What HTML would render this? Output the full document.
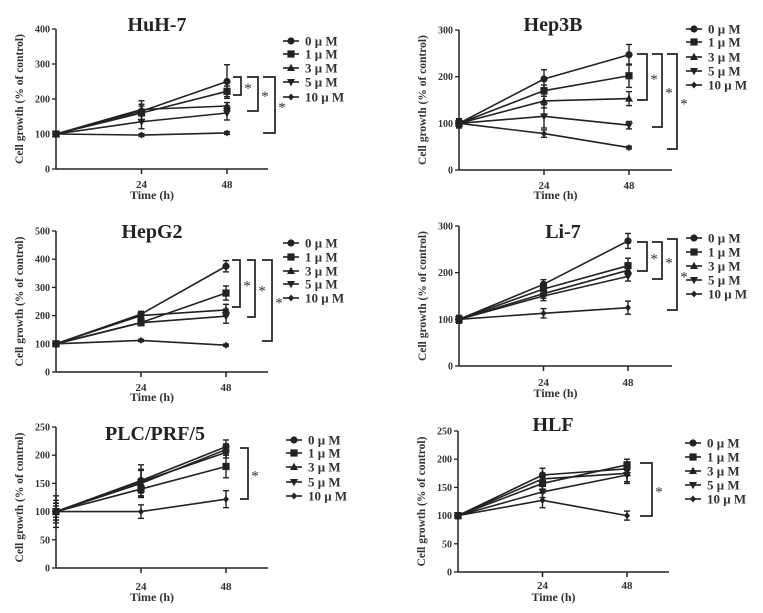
<!DOCTYPE html>
<html><head><meta charset="utf-8"><style>
html,body{margin:0;padding:0;background:#fff;}
svg{display:block;font-family:"Liberation Serif",serif;}
</style></head><body>
<svg id="fig" width="763" height="613" viewBox="0 0 763 613"></svg>
<script>
const seriesLabels = ["0 μ M","1 μ M","3 μ M","5 μ M","10 μ M"];
const timePoints = [0,24,48];
const huh7Values = [[100,165,250],[100,160,222],[100,170,180],[100,135,160],[100,97,103]];
const huh7Errors = [[5,30,48],[5,20,15],[5,15,10],[5,20,20],[3,4,4]];
const hep3bValues = [[100,195,247],[100,170,202],[100,148,153],[100,115,96],[100,78,48]];
const hep3bErrors = [[10,20,22],[8,12,25],[8,15,15],[5,25,8],[5,8,3]];
const hepg2Values = [[100,205,375],[100,175,280],[100,200,220],[100,175,198],[100,112,95]];
const hepg2Errors = [[8,10,20],[8,10,25],[8,10,20],[8,10,25],[4,4,4]];
const li7Values = [[100,175,268],[100,165,215],[100,155,205],[100,150,192],[100,113,125]];
const li7Errors = [[8,10,16],[8,10,16],[8,10,10],[8,10,10],[5,10,14]];
const plcValues = [[100,155,215],[100,140,180],[100,150,210],[100,153,205],[100,100,122]];
const plcErrors = [[28,28,12],[15,12,20],[20,25,10],[15,20,10],[10,12,15]];
const hlfValues = [[100,172,183],[100,157,190],[100,165,175],[100,142,172],[100,127,100]];
const hlfErrors = [[5,12,12],[5,10,10],[5,10,15],[5,10,15],[5,13,8]];
const yTicksA = [0,100,200,300,400];
const yTicksB = [0,100,200,300];
const yTicksC = [0,100,200,300,400,500];
const yTicksD = [0,50,100,150,200,250];
const xTickLabels = [24,48];

const NS="http://www.w3.org/2000/svg";
const svg=document.getElementById('fig');
function mk(tag,attrs,parent){const e=document.createElementNS(NS,tag);for(const k in attrs)e.setAttribute(k,attrs[k]);(parent||svg).appendChild(e);return e;}
const INK="#222";

function marker(g,k,x,y){
  let e;
  if(k===0){e=mk('circle',{cx:x,cy:y,r:3.6,fill:INK},g);}
  else if(k===1){e=mk('rect',{x:x-3.6,y:y-3.6,width:7.2,height:7.2,fill:INK},g);}
  else if(k===2){e=mk('polygon',{points:`${x},${y-4.2} ${x-4},${y+3} ${x+4},${y+3}`,fill:INK},g);}
  else if(k===3){e=mk('polygon',{points:`${x},${y+4.2} ${x-4},${y-3} ${x+4},${y-3}`,fill:INK},g);}
  else {e=mk('polygon',{points:`${x},${y-3.5} ${x+3},${y} ${x},${y+3.5} ${x-3},${y}`,fill:INK},g);}
  return e;
}

function panel(cfg){
  const g=mk('g',{});
  
  
  const ymax=cfg.ticks[cfg.ticks.length-1];
  const sy=v=>cfg.y0-(v/ymax)*(cfg.y0-cfg.yTop);
  const sx=t=>cfg.x0+(t/48)*(cfg.x48-cfg.x0);
  const t=mk('text',{x:cfg.titleX,y:cfg.titleY,'text-anchor':'middle','font-size':20,'font-weight':'bold',fill:INK},g);
  t.textContent=cfg.title;
  
  
  const ya=mk('line',{x1:cfg.x0,y1:cfg.yTop,x2:cfg.x0,y2:cfg.y0,stroke:INK,'stroke-width':1.5},g);
  
  
  const xa=mk('line',{x1:cfg.x0,y1:cfg.y0,x2:cfg.xEnd,y2:cfg.y0,stroke:INK,'stroke-width':1.5},g);
  
  
  cfg.ticks.forEach(v=>{
    mk('line',{x1:cfg.x0-4,y1:sy(v),x2:cfg.x0,y2:sy(v),stroke:INK,'stroke-width':1.3},g);
    const l=mk('text',{x:cfg.x0-6,y:sy(v)+3.5,'text-anchor':'end','font-size':10,'font-weight':'bold',fill:'#333'},g);
    l.textContent=v;
    
    
  });
  xTickLabels.forEach(v=>{
    mk('line',{x1:sx(v),y1:cfg.y0,x2:sx(v),y2:cfg.y0+5,stroke:INK,'stroke-width':1.5},g);
    const l=mk('text',{x:sx(v),y:cfg.xLabY,'text-anchor':'middle','font-size':11,'font-weight':'bold',fill:'#333'},g);
    l.textContent=v;
    
    
  });
  const xt=mk('text',{x:(cfg.x0+cfg.xEnd)/2-10,y:cfg.xTitleY,'text-anchor':'middle','font-size':12,'font-weight':'bold',fill:'#333'},g);
  xt.textContent='Time (h)';
  
  
  const yc=(cfg.y0+cfg.yTop)/2;
  const yt=mk('text',{x:cfg.x0-33,y:yc,'text-anchor':'middle','font-size':11.5,'font-weight':'bold',fill:'#333',transform:`rotate(-90 ${cfg.x0-33} ${yc})`},g);
  yt.textContent='Cell growth (% of control)';
  
  
  cfg.values.forEach((vals,k)=>{
    const sg=mk('g',{},g);
    
    
    const pts=vals.map((v,i)=>sx(timePoints[i])+','+sy(v)).join(' ');
    mk('polyline',{points:pts,fill:'none',stroke:INK,'stroke-width':1.6},sg);
    vals.forEach((v,i)=>{
      const x=sx(timePoints[i]),e=cfg.errors[k][i];
      mk('line',{x1:x,y1:sy(v-e),x2:x,y2:sy(v+e),stroke:INK,'stroke-width':1.4},sg);
      mk('line',{x1:x-3,y1:sy(v-e),x2:x+3,y2:sy(v-e),stroke:INK,'stroke-width':1.4},sg);
      mk('line',{x1:x-3,y1:sy(v+e),x2:x+3,y2:sy(v+e),stroke:INK,'stroke-width':1.4},sg);
      const m=marker(sg,k,x,sy(v));
      
      
    });
  });
  seriesLabels.forEach((lab,k)=>{
    const y=cfg.legY[k];
    const lg=mk('g',{},g);
    
    
    mk('line',{x1:cfg.legX-22,y1:y,x2:cfg.legX-6,y2:y,stroke:INK,'stroke-width':1.6},lg);
    marker(lg,k,cfg.legX-14,y);
    const tx=mk('text',{x:cfg.legX,y:y+4.5,'font-size':13,'font-weight':'bold',fill:'#333'},lg);
    tx.textContent=lab;
  });
  cfg.brackets.forEach(b=>{
    const bg=mk('g',{},g);
    
    
    mk('polyline',{points:`${b[0]},${b[2]} ${b[1]},${b[2]} ${b[1]},${b[3]} ${b[0]},${b[3]}`,fill:'none',stroke:INK,'stroke-width':1.7},bg);
    const s=mk('text',{x:b[1]+7,y:(b[2]+b[3])/2+7,'text-anchor':'middle','font-size':15,fill:'#333'},bg);
    s.textContent='*';
  });
}

panel({name:'huh7',title:'HuH-7',titleX:157,titleY:31,x0:56,x48:227,xEnd:268,yTop:29,y0:169,ticks:yTicksA,values:huh7Values,errors:huh7Errors,xLabY:188,xTitleY:199,legX:305,legY:[41,54,68,82,97],
  brackets:[[233,241,77,95],[247,258,77,111],[263,275,77,133]]});
panel({name:'hep3b',title:'Hep3B',titleX:553,titleY:31,x0:459,x48:629,xEnd:672,yTop:30,y0:170,ticks:yTicksB,values:hep3bValues,errors:hep3bErrors,xLabY:189,xTitleY:199,legX:708,legY:[29,42,57,71,85],
  brackets:[[637,647,54,100],[652,662,54,127],[667,677,54,149]]});
panel({name:'hepg2',title:'HepG2',titleX:152,titleY:238,x0:56,x48:226,xEnd:268,yTop:231,y0:372,ticks:yTicksC,values:hepg2Values,errors:hepg2Errors,xLabY:391,xTitleY:401,legX:305,legY:[243,257,271,284,298],
  brackets:[[232,240,260,307],[247,255,260,317],[262,272,260,341]]});
panel({name:'li7',title:'Li-7',titleX:563,titleY:238,x0:459,x48:628,xEnd:672,yTop:226,y0:366,ticks:yTicksB,values:li7Values,errors:li7Errors,xLabY:386,xTitleY:397,legX:708,legY:[238,252,266,280,294],
  brackets:[[637,647,242,271],[652,662,242,279],[667,677,239,310]]});
panel({name:'plc',title:'PLC/PRF/5',titleX:155,titleY:440,x0:56,x48:226,xEnd:268,yTop:427,y0:568,ticks:yTicksD,values:plcValues,errors:plcErrors,xLabY:590,xTitleY:601,legX:308,legY:[440,453,467,482,496],
  brackets:[[240,248,448,499]]});
panel({name:'hlf',title:'HLF',titleX:553,titleY:431,x0:458,x48:627,xEnd:669,yTop:431,y0:572,ticks:yTicksD,values:hlfValues,errors:hlfErrors,xLabY:589,xTitleY:601,legX:707,legY:[443,457,471,485,499],
  brackets:[[640,652,463,516]]});
</script>
</body></html>
